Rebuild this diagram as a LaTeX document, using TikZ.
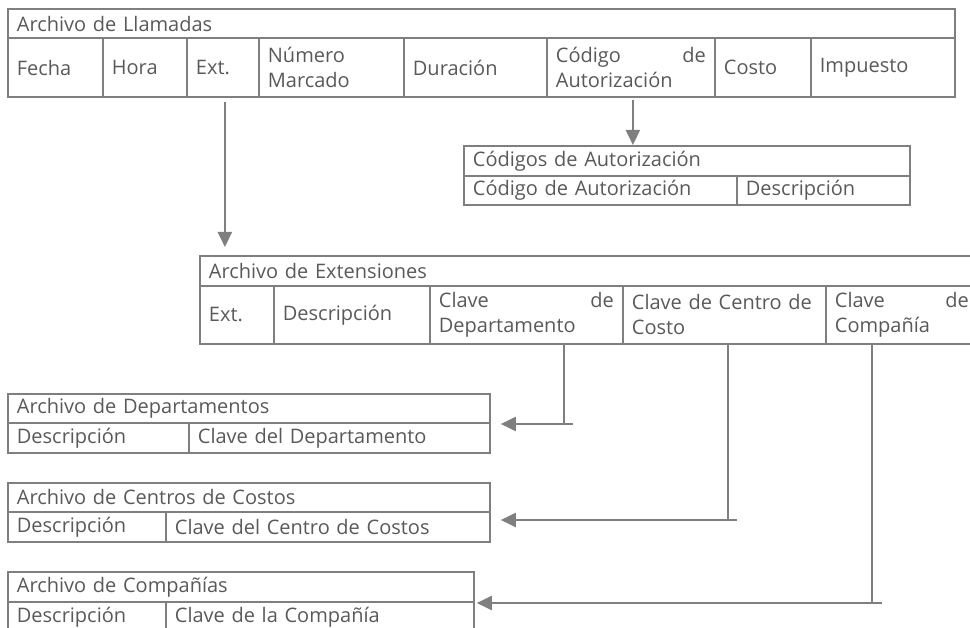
\documentclass[tikz,border=0pt]{standalone}
\usepackage{fontspec}
\setmainfont{Open Sans}
\usetikzlibrary{arrows.meta,positioning,calc}
\definecolor{linegray}{HTML}{7F7F7F}
\definecolor{textgray}{HTML}{595959}

\begin{document}
\begin{tikzpicture}[x=1pt, y=-1pt, every node/.style={font=\fontsize{20}{25}\selectfont, text=textgray}, cell/.style={draw=linegray, line width=1.8pt, anchor=north west, inner xsep=9pt, inner ysep=0pt, align=left}, conn/.style={draw=linegray, line width=2pt}, arrow/.style={conn, -{Triangle[length=15pt, width=14pt]}}]
\useasboundingbox (0,0) rectangle (970,628);
% Archivo de Llamadas
\node[cell, text width=929pt, minimum height=29.5pt] (llam) at (7,8) {Archivo de Llamadas};
\foreach \x/\w/\t [count=\i, evaluate=\w as \tw using \w-18] in {7/95/Fecha, 102/84/Hora, 186/72/Ext., 258/145/{Número\\Marcado}, 403/143/Duración, 546/168/{Código\hfill de\\Autorización}, 714/96/Costo, 810/144/Impuesto}
  \node[cell, text width=\tw pt, minimum height=58.5pt] (ll\i) at (\x,37.5) {\t};
% Codigos de Autorizacion
\node[cell, text width=428pt, minimum height=30pt] (cod) at (463,145) {Códigos de Autorización};
\node[cell, text width=255pt, minimum height=29pt] (cod1) at (463,175) {Código de Autorización};
\node[cell, text width=155pt, minimum height=29pt] (cod2) at (736,175) {Descripción};
% Archivo de Extensiones
\node[cell, text width=768pt, minimum height=30pt] (ext) at (199,255) {Archivo de Extensiones};
\foreach \x/\w/\t [count=\i, evaluate=\w as \tw using \w-18] in {199/74/Ext., 273/156/Descripción, 429/193/{Clave\hfill de\\Departamento}, 622/203/{Clave de Centro de\\Costo}, 825/152/{Clave\hfill de\\Compañía}}
  \node[cell, text width=\tw pt, minimum height=58pt] (ex\i) at (\x,285) {\t};
% Departamentos
\node[cell, text width=464pt, minimum height=29pt] (dep) at (7,393) {Archivo de Departamentos};
\node[cell, text width=163pt, minimum height=30pt] (dep1) at (7,422) {Descripción};
\node[cell, text width=283pt, minimum height=30pt] (dep2) at (188,422) {Clave del Departamento};
% Centros de Costos
\node[cell, text width=464pt, minimum height=29pt] (cen) at (7,482) {Archivo de Centros de Costos};
\node[cell, text width=140pt, minimum height=30pt] (cen1) at (7,511) {Descripción};
\node[cell, text width=306pt, minimum height=30pt] (cen2) at (165,511) {Clave del Centro de Costos};
% Compañias
\node[cell, text width=448pt, minimum height=30pt] (com) at (7,571) {Archivo de Compañías};
\node[cell, text width=140pt, minimum height=30pt] (com1) at (7,601) {Descripción};
\node[cell, text width=290pt, minimum height=30pt] (com2) at (165,601) {Clave de la Compañía};
% relaciones
\draw[arrow, shorten <=4pt, shorten >=8pt] ([xshift=2pt]ll3.south) -- ([xshift=2pt]ll3.south |- ext.north);
\draw[arrow, shorten <=2pt] ([xshift=2pt]ll6.south) -- ([xshift=2pt]ll6.south |- cod.north);
\coordinate (kdep) at (564,424);
\coordinate (kcen) at (728,520);
\coordinate (kcom) at (872,603);
\draw[conn] (ex3.south -| kdep) -- (kdep);
\draw[arrow, shorten >=10pt] ([xshift=9pt]kdep) -- (kdep -| dep2.east);
\draw[conn] (ex4.south -| kcen) -- (kcen);
\draw[arrow, shorten >=10pt] ([xshift=9pt]kcen) -- (kcen -| cen2.east);
\draw[conn] (ex5.south -| kcom) -- (kcom);
\draw[arrow, shorten >=2pt] ([xshift=10pt]kcom) -- (kcom -| com2.east);
\end{tikzpicture}
\end{document}
